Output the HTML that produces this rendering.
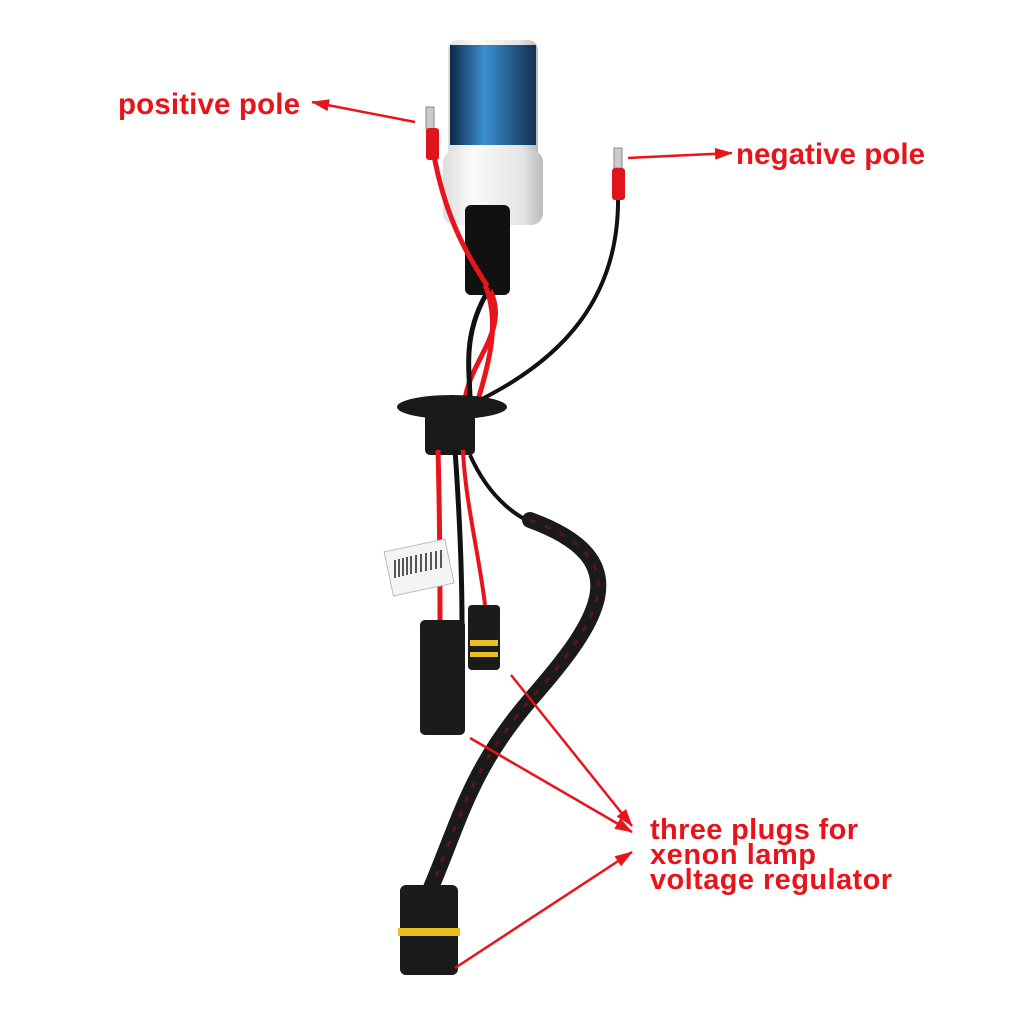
<!DOCTYPE html><html><head><style>body{margin:0;background:#fff}svg{display:block}
text{font-family:"Liberation Sans",sans-serif;font-weight:bold;fill:#e8141c}</style></head><body>
<svg width="1024" height="1024" viewBox="0 0 1024 1024">
<defs><marker id="a" markerWidth="18" markerHeight="12" refX="17" refY="6" orient="auto" markerUnits="userSpaceOnUse" viewBox="0 0 18 12"><path d="M0,0L18,6L0,12z" fill="#e8141c"/></marker>
<linearGradient id="g" x1="0" x2="1"><stop offset="0" stop-color="#ddd"/><stop offset=".3" stop-color="#fafafa"/><stop offset=".8" stop-color="#e4e4e4"/><stop offset="1" stop-color="#bbb"/></linearGradient>
<linearGradient id="b" x1="0" x2="1"><stop offset="0" stop-color="#0c2a4a"/><stop offset=".4" stop-color="#3c8ed0"/><stop offset="1" stop-color="#10304f"/></linearGradient></defs>
<rect x="448" y="40" width="90" height="150" rx="10" fill="url(#g)"/>
<rect x="443" y="150" width="100" height="75" rx="12" fill="url(#g)"/>
<rect x="450" y="45" width="86" height="100" fill="url(#b)"/>
<rect x="465" y="205" width="45" height="90" rx="6" fill="#111"/>
<path d="M433,150 C445,220 470,260 490,290 C510,330 470,360 465,400" stroke="#e8141c" stroke-width="5" fill="none"/>
<path d="M495,280 C460,330 470,370 470,400" stroke="#111" stroke-width="5" fill="none"/>
<path d="M485,285 C500,320 490,360 478,400" stroke="#e8141c" stroke-width="5" fill="none"/>
<path d="M618,195 C620,300 560,360 480,400" stroke="#111" stroke-width="4" fill="none"/>
<rect x="426" y="107" width="8" height="22" fill="#ccc" stroke="#888"/>
<rect x="426" y="128" width="13" height="32" rx="3" fill="#e0141c"/>
<rect x="614" y="148" width="8" height="20" fill="#ccc" stroke="#888"/>
<rect x="612" y="168" width="13" height="32" rx="3" fill="#e0141c"/>
<ellipse cx="452" cy="407" rx="55" ry="12" fill="#1a1a1a"/>
<rect x="425" y="410" width="50" height="45" rx="5" fill="#1a1a1a"/>
<path d="M438,450 C440,520 440,580 440,625" stroke="#e8141c" stroke-width="5" fill="none"/>
<path d="M455,450 C460,520 462,580 462,625" stroke="#111" stroke-width="5" fill="none"/>
<path d="M463,450 C465,500 480,560 485,605" stroke="#e8141c" stroke-width="4" fill="none"/>
<path d="M470,455 C490,500 520,520 540,525" stroke="#111" stroke-width="4" fill="none"/>
<path d="M530,520 C640,560 600,620 530,700 C470,770 460,820 430,890" stroke="#1a1a1a" stroke-width="16" fill="none" stroke-linecap="round"/>
<path d="M530,520 C640,560 600,620 530,700 C470,770 460,820 430,890" stroke="#5a1515" stroke-width="3" fill="none" stroke-dasharray="6 10"/>
<rect x="388" y="545" width="62" height="45" fill="#f4f4f4" stroke="#bbb" transform="rotate(-12 419 567)"/>
<g stroke="#222" stroke-width="1.5"><path d="M395,560v18M399,559v18M403,558v18M407,557v18M411,556v18M416,555v18M421,554v18M426,553v18M431,552v18M436,551v18M441,550v18"/></g>
<rect x="420" y="620" width="45" height="115" rx="5" fill="#1b1b1b"/>
<rect x="468" y="605" width="32" height="65" rx="4" fill="#1b1b1b"/>
<rect x="470" y="640" width="28" height="6" fill="#e8c020"/>
<rect x="470" y="652" width="28" height="5" fill="#e8c020"/>
<rect x="400" y="885" width="58" height="90" rx="6" fill="#1b1b1b"/>
<rect x="398" y="928" width="62" height="8" fill="#e8c020"/>
<g stroke="#e8141c" stroke-width="2.5" fill="none" marker-end="url(#a)">
<path d="M415,122L312,102"/><path d="M628,158L732,153"/>
<path d="M511,675L632,826"/><path d="M470,738L632,832"/><path d="M455,968L632,852"/></g>
<text x="118" y="114" font-size="29.5" textLength="182">positive pole</text>
<text x="736" y="164" font-size="29.5" textLength="189">negative pole</text>
<text x="650" y="839" font-size="29" textLength="208">three plugs for</text>
<text x="650" y="864" font-size="29" textLength="166">xenon lamp</text>
<text x="650" y="889" font-size="29" textLength="242">voltage regulator</text>
</svg></body></html>
